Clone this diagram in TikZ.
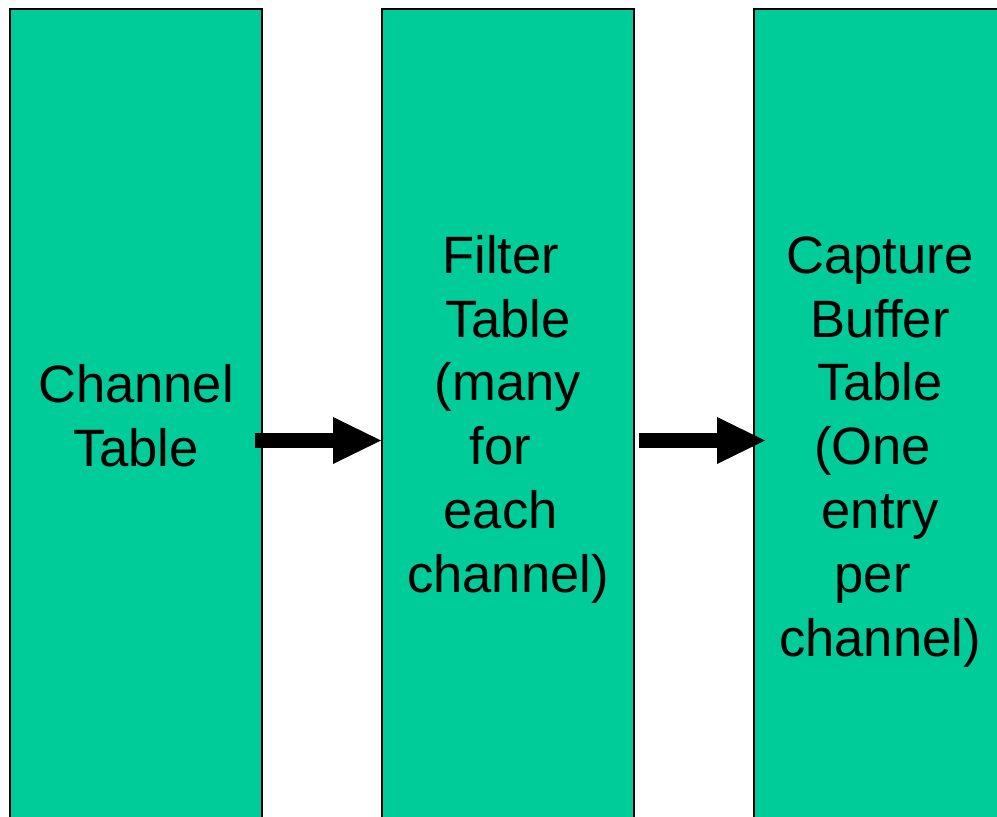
\documentclass[tikz,border=0pt]{standalone}
\usepackage{fontspec}
\setmainfont{Liberation Sans}
\usetikzlibrary{arrows.meta}
\definecolor{tabgreen}{RGB}{0,204,153}
\tikzset{
  tablebox/.style={draw=black, line width=2pt, fill=tabgreen, inner sep=0pt},
  tabletext/.style={anchor=north, inner sep=0pt, align=center,
    font=\fontsize{52.6}{63.8}\selectfont},
  bigarrow/.style={line width=15pt, line cap=butt,
    -{Triangle[length=48pt,width=47pt,line width=0pt]}}
}
\newcommand{\tsp}{\hbox to .278em{}}
\newcommand{\topstrut}{\rule{0pt}{50pt}}
\begin{document}
\begin{tikzpicture}[x=1pt,y=-1pt]
\useasboundingbox (0,0) rectangle (997,817);
\clip (0,0) rectangle (997,817);
% table columns
\node[tablebox, minimum width=252pt, minimum height=821pt] (chan) at (136,419.5) {};
\node[tablebox, minimum width=252pt, minimum height=821pt] (filt) at (508,419.5) {};
\node[tablebox, minimum width=252pt, minimum height=821pt] (capt) at (880,419.5) {};
% labels
\node[tabletext] (chantext) at (136,352) {\topstrut Channel\\Table};
\node[tabletext] (filttext) at (508,223) {\topstrut Filter\tsp\\Table\\(many\\for\tsp\\each\tsp\\channel)};
\node[tabletext] (capttext) at (880,223) {\topstrut Capture\\Buffer\\Table\\(One\tsp\\entry\\per\tsp\\channel)};
% arrows
\coordinate (arrowy) at (0,440.5);
\draw[bigarrow] ([xshift=-8pt]chan.east |- arrowy) -- (filt.west |- arrowy);
\draw[bigarrow] ([xshift=4pt]filt.east |- arrowy) -- ([xshift=12pt]capt.west |- arrowy);
\end{tikzpicture}
\end{document}
